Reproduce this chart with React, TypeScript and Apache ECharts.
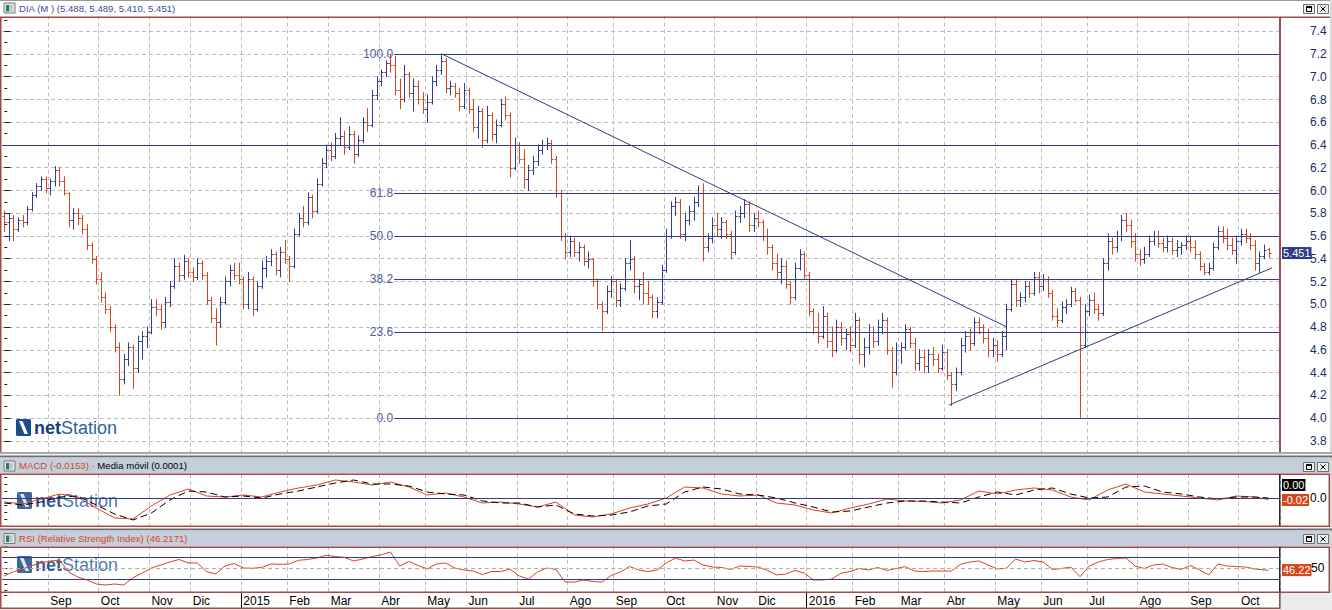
import React, { useEffect, useRef } from 'react';
import * as echarts from 'echarts';

// ---------- axis categories (each bar = two trading days) ----------
const monthLabels = ['Ago', 'Sep', 'Oct', 'Nov', 'Dic', '2015', 'Feb', 'Mar', 'Abr', 'May', 'Jun', 'Jul', 'Ago', 'Sep', 'Oct', 'Nov', 'Dic', '2016', 'Feb', 'Mar', 'Abr', 'May', 'Jun', 'Jul', 'Ago', 'Sep', 'Oct'];
const barsPerMonth = [10, 11, 11, 9, 11, 10, 9, 11, 10, 9, 11, 11, 10, 11, 11, 9, 11, 10, 10, 10, 11, 10, 10, 11, 11, 11, 9];

// ---------- OHLC bars: [open, high, low, close] ----------
const ohlc2014 = [
  [5.78, 5.82, 5.64, 5.72], [5.72, 5.80, 5.56, 5.76], [5.76, 5.78, 5.56, 5.66], [5.66, 5.76, 5.64, 5.74], [5.74, 5.78, 5.68, 5.72],
  [5.72, 5.86, 5.70, 5.84], [5.84, 5.98, 5.82, 5.96], [5.96, 6.06, 5.94, 6.04], [6.04, 6.12, 6.00, 6.10], [6.10, 6.12, 5.98, 6.02],
  [6.02, 6.10, 5.96, 6.08], [6.08, 6.21, 6.04, 6.18], [6.18, 6.20, 6.04, 6.08], [6.08, 6.12, 5.96, 5.98], [5.98, 5.98, 5.68, 5.74],
  [5.74, 5.84, 5.66, 5.80], [5.80, 5.84, 5.70, 5.76], [5.76, 5.78, 5.62, 5.66], [5.66, 5.70, 5.48, 5.52], [5.52, 5.54, 5.36, 5.40],
  [5.40, 5.42, 5.18, 5.22], [5.22, 5.28, 5.02, 5.06], [5.06, 5.10, 4.92, 4.96], [4.96, 4.98, 4.76, 4.80], [4.80, 4.82, 4.58, 4.62],
  [4.62, 4.66, 4.20, 4.34], [4.34, 4.56, 4.30, 4.52], [4.52, 4.66, 4.46, 4.62], [4.62, 4.64, 4.26, 4.44], [4.44, 4.72, 4.40, 4.68],
  [4.68, 4.76, 4.52, 4.72], [4.72, 4.80, 4.62, 4.76], [4.76, 5.04, 4.74, 4.98], [4.98, 5.04, 4.90, 4.96], [4.96, 5.00, 4.78, 4.84],
  [4.84, 5.06, 4.80, 5.02], [5.02, 5.20, 4.98, 5.16], [5.16, 5.40, 5.14, 5.34], [5.34, 5.36, 5.20, 5.26], [5.26, 5.43, 5.22, 5.38],
  [5.38, 5.40, 5.24, 5.28], [5.28, 5.32, 5.20, 5.24], [5.24, 5.40, 5.22, 5.36], [5.36, 5.38, 5.22, 5.26], [5.26, 5.28, 5.00, 5.04],
  [5.04, 5.06, 4.84, 4.88], [4.88, 4.96, 4.64, 4.84], [4.84, 5.06, 4.80, 5.02], [5.02, 5.24, 5.00, 5.20], [5.20, 5.34, 5.16, 5.30],
  [5.30, 5.36, 5.22, 5.26], [5.26, 5.36, 5.18, 5.22],
];
const ohlc2015 = [
  [5.22, 5.24, 4.96, 5.00], [5.00, 5.28, 4.96, 5.22], [5.22, 5.24, 4.90, 4.96], [4.96, 5.20, 4.94, 5.16], [5.16, 5.38, 5.14, 5.32],
  [5.32, 5.42, 5.24, 5.38], [5.38, 5.48, 5.34, 5.44], [5.44, 5.46, 5.26, 5.30], [5.30, 5.50, 5.24, 5.46], [5.46, 5.56, 5.36, 5.40],
  [5.40, 5.42, 5.20, 5.34], [5.34, 5.66, 5.32, 5.62], [5.62, 5.80, 5.60, 5.76], [5.76, 5.86, 5.68, 5.72], [5.72, 5.98, 5.70, 5.94],
  [5.94, 5.96, 5.76, 5.82], [5.82, 6.10, 5.80, 6.06], [6.06, 6.28, 6.04, 6.24], [6.24, 6.40, 6.20, 6.36], [6.36, 6.42, 6.26, 6.30],
  [6.30, 6.50, 6.28, 6.46], [6.46, 6.64, 6.40, 6.48], [6.48, 6.52, 6.32, 6.38], [6.38, 6.56, 6.36, 6.50], [6.50, 6.52, 6.24, 6.32],
  [6.32, 6.48, 6.30, 6.44], [6.44, 6.64, 6.42, 6.60], [6.60, 6.72, 6.52, 6.58], [6.58, 6.88, 6.56, 6.84], [6.84, 7.00, 6.80, 6.96],
  [6.96, 7.06, 6.92, 7.04], [7.04, 7.14, 7.00, 7.12], [7.12, 7.20, 7.04, 7.10], [7.10, 7.18, 6.84, 6.88], [6.88, 6.98, 6.72, 6.80],
  [6.80, 7.10, 6.78, 7.02], [7.02, 7.04, 6.82, 6.86], [6.86, 6.98, 6.70, 6.92], [6.92, 6.96, 6.76, 6.80], [6.80, 6.86, 6.68, 6.72],
  [6.72, 6.84, 6.60, 6.78], [6.78, 7.00, 6.76, 6.96], [6.96, 7.10, 6.92, 7.06], [7.06, 7.20, 7.02, 7.14], [7.14, 7.16, 6.86, 6.90],
  [6.90, 6.96, 6.84, 6.92], [6.92, 6.94, 6.82, 6.86], [6.86, 6.90, 6.70, 6.74], [6.74, 6.94, 6.72, 6.88], [6.88, 6.90, 6.68, 6.72],
  [6.72, 6.80, 6.52, 6.56], [6.56, 6.74, 6.46, 6.70], [6.70, 6.72, 6.38, 6.44], [6.44, 6.74, 6.42, 6.66], [6.66, 6.68, 6.44, 6.50],
  [6.50, 6.62, 6.42, 6.58], [6.58, 6.80, 6.56, 6.76], [6.76, 6.82, 6.62, 6.66], [6.66, 6.68, 6.12, 6.20], [6.20, 6.46, 6.18, 6.40],
  [6.40, 6.42, 6.24, 6.28], [6.28, 6.36, 6.02, 6.10], [6.10, 6.22, 6.00, 6.18], [6.18, 6.30, 6.14, 6.26], [6.26, 6.40, 6.22, 6.36],
  [6.36, 6.44, 6.32, 6.40], [6.40, 6.46, 6.36, 6.42], [6.42, 6.44, 6.24, 6.28], [6.28, 6.30, 5.94, 5.98], [5.98, 6.00, 5.56, 5.60],
  [5.60, 5.62, 5.40, 5.46], [5.46, 5.60, 5.42, 5.56], [5.56, 5.58, 5.42, 5.46], [5.46, 5.54, 5.38, 5.50], [5.50, 5.52, 5.34, 5.38],
  [5.38, 5.46, 5.32, 5.40], [5.40, 5.40, 5.16, 5.20], [5.20, 5.22, 4.96, 5.00], [5.00, 5.02, 4.77, 4.94], [4.94, 5.16, 4.92, 5.12],
  [5.12, 5.24, 5.06, 5.20], [5.20, 5.22, 4.98, 5.04], [5.04, 5.18, 4.98, 5.14], [5.14, 5.40, 5.12, 5.36], [5.36, 5.56, 5.30, 5.40],
  [5.40, 5.42, 5.10, 5.16], [5.16, 5.22, 5.04, 5.18], [5.18, 5.28, 5.00, 5.10], [5.10, 5.20, 5.00, 5.06], [5.06, 5.08, 4.88, 4.94],
  [4.94, 5.06, 4.88, 5.02], [5.02, 5.34, 5.00, 5.30], [5.30, 5.66, 5.28, 5.60], [5.60, 5.90, 5.58, 5.86], [5.86, 5.94, 5.78, 5.90],
  [5.90, 5.92, 5.58, 5.62], [5.62, 5.80, 5.56, 5.74], [5.74, 5.86, 5.70, 5.82], [5.82, 5.94, 5.74, 5.90], [5.90, 6.04, 5.86, 5.98],
  [5.98, 6.06, 5.38, 5.50], [5.50, 5.62, 5.46, 5.58], [5.58, 5.76, 5.54, 5.70], [5.70, 5.80, 5.60, 5.66], [5.66, 5.76, 5.58, 5.72],
  [5.72, 5.74, 5.58, 5.62], [5.62, 5.64, 5.40, 5.46], [5.46, 5.82, 5.44, 5.78], [5.78, 5.86, 5.72, 5.80], [5.80, 5.92, 5.76, 5.88],
  [5.88, 5.90, 5.64, 5.70], [5.70, 5.80, 5.64, 5.76], [5.76, 5.82, 5.68, 5.72], [5.72, 5.74, 5.56, 5.60], [5.60, 5.66, 5.44, 5.50],
  [5.50, 5.52, 5.30, 5.36], [5.36, 5.44, 5.22, 5.28], [5.28, 5.40, 5.18, 5.34], [5.34, 5.38, 5.14, 5.18], [5.18, 5.20, 5.00, 5.06],
  [5.06, 5.36, 5.04, 5.32], [5.32, 5.48, 5.30, 5.44], [5.44, 5.46, 5.22, 5.26],
];
const ohlc2016 = [
  [5.26, 5.28, 4.90, 4.94], [4.94, 4.96, 4.74, 4.80], [4.80, 4.92, 4.66, 4.72], [4.72, 4.98, 4.70, 4.90], [4.90, 4.92, 4.62, 4.68],
  [4.68, 4.80, 4.54, 4.60], [4.60, 4.86, 4.58, 4.80], [4.80, 4.84, 4.64, 4.70], [4.70, 4.78, 4.60, 4.74], [4.74, 4.80, 4.58, 4.64],
  [4.64, 4.92, 4.62, 4.86], [4.86, 4.88, 4.48, 4.56], [4.56, 4.70, 4.45, 4.62], [4.62, 4.82, 4.56, 4.76], [4.76, 4.80, 4.62, 4.68],
  [4.68, 4.86, 4.64, 4.80], [4.80, 4.92, 4.74, 4.86], [4.86, 4.88, 4.56, 4.60], [4.60, 4.62, 4.27, 4.40], [4.40, 4.66, 4.38, 4.60],
  [4.60, 4.66, 4.48, 4.62], [4.62, 4.82, 4.60, 4.78], [4.78, 4.80, 4.62, 4.66], [4.66, 4.70, 4.42, 4.48], [4.48, 4.60, 4.42, 4.54],
  [4.54, 4.60, 4.40, 4.46], [4.46, 4.60, 4.40, 4.56], [4.56, 4.62, 4.46, 4.52], [4.52, 4.56, 4.40, 4.44], [4.44, 4.64, 4.42, 4.58],
  [4.58, 4.60, 4.34, 4.38], [4.38, 4.40, 4.11, 4.30], [4.30, 4.44, 4.24, 4.40], [4.40, 4.70, 4.38, 4.64], [4.64, 4.76, 4.58, 4.72],
  [4.72, 4.78, 4.60, 4.66], [4.66, 4.88, 4.64, 4.84], [4.84, 4.88, 4.74, 4.80], [4.80, 4.82, 4.66, 4.70], [4.70, 4.78, 4.54, 4.60],
  [4.60, 4.70, 4.54, 4.64], [4.64, 4.68, 4.50, 4.56], [4.56, 4.76, 4.54, 4.72], [4.72, 5.00, 4.60, 4.96], [4.96, 5.22, 4.94, 5.18],
  [5.18, 5.22, 4.98, 5.04], [5.04, 5.10, 4.98, 5.06], [5.06, 5.20, 5.02, 5.16], [5.16, 5.20, 5.06, 5.10], [5.10, 5.28, 5.08, 5.24],
  [5.24, 5.28, 5.10, 5.16], [5.16, 5.26, 5.12, 5.22], [5.22, 5.24, 5.06, 5.10], [5.10, 5.12, 4.86, 4.90], [4.90, 4.96, 4.80, 4.86],
  [4.86, 5.02, 4.84, 4.98], [4.98, 5.04, 4.92, 5.00], [5.00, 5.15, 4.98, 5.12], [5.12, 5.14, 5.02, 5.04], [5.04, 5.06, 4.00, 4.64],
  [4.64, 5.00, 4.62, 4.94], [4.94, 5.08, 4.90, 5.04], [5.04, 5.10, 4.92, 4.96], [4.96, 5.00, 4.86, 4.92], [4.92, 5.40, 4.90, 5.36],
  [5.36, 5.62, 5.30, 5.56], [5.56, 5.58, 5.44, 5.50], [5.50, 5.64, 5.46, 5.60], [5.60, 5.78, 5.56, 5.74], [5.74, 5.80, 5.64, 5.70],
  [5.70, 5.74, 5.50, 5.56], [5.56, 5.62, 5.38, 5.44], [5.44, 5.48, 5.34, 5.40], [5.40, 5.50, 5.36, 5.44], [5.44, 5.60, 5.42, 5.56],
  [5.56, 5.64, 5.52, 5.60], [5.60, 5.64, 5.50, 5.54], [5.54, 5.58, 5.46, 5.50], [5.50, 5.60, 5.46, 5.56], [5.56, 5.58, 5.44, 5.48],
  [5.48, 5.56, 5.42, 5.50], [5.50, 5.54, 5.44, 5.52], [5.52, 5.60, 5.48, 5.56], [5.56, 5.60, 5.46, 5.50], [5.50, 5.56, 5.40, 5.44],
  [5.44, 5.46, 5.30, 5.34], [5.34, 5.36, 5.26, 5.28], [5.28, 5.36, 5.26, 5.32], [5.32, 5.54, 5.30, 5.50], [5.50, 5.68, 5.48, 5.64],
  [5.64, 5.68, 5.54, 5.58], [5.58, 5.66, 5.48, 5.52], [5.52, 5.58, 5.44, 5.48], [5.48, 5.60, 5.36, 5.56], [5.56, 5.66, 5.52, 5.62],
  [5.62, 5.66, 5.54, 5.58], [5.58, 5.62, 5.48, 5.52], [5.52, 5.56, 5.30, 5.36], [5.36, 5.46, 5.28, 5.42], [5.42, 5.52, 5.40, 5.48],
  [5.488, 5.489, 5.41, 5.451],
];

// ---------- indicators ----------
const macdStep = 4; // one reading every 4 bars
const macdLine = [
  -0.04, -0.06, -0.01, 0.04, 0.01, -0.10, -0.20, -0.21, -0.08, 0.03, 0.09, 0.02, 0.01, 0.03, 0.01, 0.06, 0.10, 0.13, 0.18, 0.16,
  0.13, 0.16, 0.11, 0.03, 0.05, 0.01, -0.05, -0.04, -0.06, -0.09, -0.04, -0.17, -0.19, -0.16, -0.10, -0.06, 0.00, 0.11, 0.10, 0.04,
  0.02, 0.03, -0.05, -0.07, -0.12, -0.15, -0.10, -0.06, -0.01, -0.03, -0.035, -0.05, -0.02, 0.07, 0.04, 0.08, 0.10, 0.08, 0.01, -0.02,
  0.08, 0.14, 0.06, 0.04, 0.02, 0.00, -0.02, 0.02, 0.01,
];
const macdSignal = [
  -0.05, -0.07, -0.04, 0.01, 0.02, -0.07, -0.16, -0.22, -0.15, -0.02, 0.07, 0.06, 0.01, 0.02, 0.00, 0.04, 0.07, 0.11, 0.15, 0.18,
  0.14, 0.14, 0.12, 0.06, 0.04, 0.03, -0.03, -0.05, -0.05, -0.09, -0.07, -0.16, -0.18, -0.17, -0.14, -0.08, -0.06, 0.06, 0.11, 0.09,
  0.04, 0.03, 0.00, -0.05, -0.09, -0.14, -0.13, -0.09, -0.05, -0.03, -0.03, -0.04, -0.05, 0.01, 0.06, 0.03, 0.08, 0.10, 0.04, 0.00,
  0.01, 0.11, 0.12, 0.06, 0.04, 0.01, -0.01, 0.01, 0.01,
];
const rsiStep = 2; // one reading every 2 bars
const rsiLine = [
  35.5, 43.3, 48.2, 54.5, 59.1, 62.7, 64.5, 42.7, 33.6, 28.2, 20.9, 19.1, 20.9, 19.0, 32.4, 40.9, 50.0, 55.5, 60.9, 65.5,
  59.1, 59.1, 43.3, 39.1, 53.6, 58.2, 50.0, 49.5, 51.0, 57.3, 56.7, 57.3, 64.0, 65.5, 68.2, 73.3, 70.9, 69.1, 62.7, 66.4,
  70.9, 74.0, 79.1, 53.6, 62.0, 54.5, 48.2, 57.3, 59.1, 50.0, 46.4, 44.5, 38.2, 43.6, 43.6, 48.2, 35.5, 30.0, 42.7, 50.0,
  47.3, 24.5, 24.5, 28.2, 25.5, 24.5, 36.4, 42.7, 52.7, 46.4, 43.6, 46.4, 59.1, 68.2, 62.7, 64.5, 55.5, 51.8, 51.0, 47.3,
  53.6, 52.7, 51.8, 45.5, 37.3, 39.1, 45.5, 40.9, 28.2, 28.2, 30.0, 40.4, 43.6, 49.1, 46.4, 50.9, 45.5, 49.1, 52.4, 44.5,
  43.6, 44.5, 44.5, 44.5, 56.7, 60.9, 62.7, 55.5, 48.2, 49.5, 66.4, 60.9, 63.6, 60.9, 47.3, 49.1, 51.8, 34.2, 53.6, 60.9,
  65.5, 67.3, 68.2, 53.6, 49.1, 55.5, 57.3, 50.9, 47.3, 54.5, 46.4, 37.3, 57.3, 53.6, 52.7, 51.8, 48.2, 46.4,
];
const priceLast = 5.451;
const macdLast = -0.0153;
const signalLast = 0.0001;
const rsiLast = 46.2171;

// ---------- drawn studies ----------
const fibLevels = [100, 61.8, 50, 38.2, 23.6, 0];
const fibHigh = 7.2;
const fibLow = 4.0;
const fibStartBar = 84.8;
const resistanceLevel = 6.4;
const downTrend = [[95.2, 7.2], [218.1, 4.8]];
const upTrend = [[205.5, 4.114], [275.8, 5.32]];
const rsiBands = [70, 30];

// ---------- styling ----------
const FONT = '"Liberation Sans", Arial, Helvetica, sans-serif';
const TITLE_SIZE = 9.6;
const UP = '#333d8c';
const DOWN = '#d4461c';
const NAVY = '#323c86';
const GRIDC = '#bdbdbd';
const FRAME = '#a04c4c';
const BARBG = '#c5cfdb';
const CLEAR = 'rgba(0,0,0,0)';

const categories: string[] = [];
barsPerMonth.forEach((n, k) => {
  for (let j = 0; j < n; j++) categories.push(k + ':' + j);
});
const N = categories.length;
const monthOf = (v: string) => monthLabels[Number(v.split(':')[0])];
const isMonthStart = (v: string) => v.endsWith(':0') && v !== '0:0';
const isYearStart = (v: string) => isMonthStart(v) && /^\d{4}$/.test(monthOf(v));

const bars = [...ohlc2014, ...ohlc2015, ...ohlc2016].map((b, i) => [i, b[0], b[1], b[2], b[3]]);
const lastBar = bars.length - 1;
const macdData = macdLine.map((v, k) => [k * macdStep, v]).concat([[lastBar, macdLast]]);
const signalData = macdSignal.map((v, k) => [k * macdStep, v]).concat([[lastBar, signalLast]]);
const rsiData = rsiLine.map((v, k) => [k * rsiStep, v]).concat([[lastBar, rsiLast]]);

const Z = 100;
const rect = (x: number, y: number, w: number, h: number, fill: string, extra: any = {}) => ({
  type: 'rect', z: Z, silent: true, shape: { x, y, width: w, height: h }, style: { fill, ...extra },
});
const panelIcon = (x: number, y: number) => [
  rect(x, y, 11, 10, '#e4e4e4', { stroke: '#7b7b7b', lineWidth: 1 }),
  rect(x + 2, y + 2, 3, 6.5, '#2d7a68'),
  rect(x + 5, y + 2, 3.5, 6.5, '#a8cfc2'),
];
const panelButtons = (y: number) => [
  rect(1303.5, y + 0.5, 11, 9, '#eeeeee', { stroke: '#707070', lineWidth: 1 }),
  rect(1306.5, y + 2.5, 5, 5, 'none', { stroke: '#000', lineWidth: 1 }),
  rect(1306.5, y + 2.5, 5, 1.5, '#000'),
  rect(1317.5, y + 0.5, 11, 9, '#eeeeee', { stroke: '#707070', lineWidth: 1 }),
  { type: 'line', z: Z, silent: true, shape: { x1: 1320.5, y1: y + 2.5, x2: 1325.5, y2: y + 7.5 }, style: { stroke: '#000', lineWidth: 1 } },
  { type: 'line', z: Z, silent: true, shape: { x1: 1325.5, y1: y + 2.5, x2: 1320.5, y2: y + 7.5 }, style: { stroke: '#000', lineWidth: 1 } },
];
const titleText = (y: number, text: string, rich: any) => ({
  type: 'text', z: Z, silent: true, x: 19, y,
  style: { text, fontSize: TITLE_SIZE, fontFamily: FONT, verticalAlign: 'middle', fill: '#3a4a9e', rich },
});
const logo = (x: number, y: number, opacity: number) => [
  { type: 'rect', z: 1, silent: true, shape: { x, y, width: 15, height: 17, r: 1.5 }, style: { fill: '#1c4c8c', opacity } },
  { type: 'polygon', z: 1, silent: true, shape: { points: [[x + 3, y + 2], [x + 6.5, y + 2], [x + 12, y + 15], [x + 8.5, y + 15]] }, style: { fill: '#ffffff', opacity } },
  {
    type: 'text', z: 1, silent: true, x: x + 18, y: y + 9,
    style: {
      text: '{n|net}{s|Station}', verticalAlign: 'middle', opacity,
      rich: {
        n: { fill: '#173f7c', fontSize: 18, fontWeight: 'bold', fontFamily: FONT },
        s: { fill: '#2f5fa0', fontSize: 18, fontFamily: FONT },
      },
    },
  },
];

function buildOption() {
  const catAxis = (grid: number) => ({
    type: 'category', gridIndex: grid, data: categories, boundaryGap: true,
    axisLine: { show: false }, axisTick: { show: false }, axisLabel: { show: false },
    splitLine: { show: true, interval: (_i: number, v: string) => isMonthStart(v), lineStyle: { color: GRIDC, type: [4, 3], width: 1 } },
  });
  const valAxis = (grid: number) => ({ type: 'value', gridIndex: grid, min: -0.5, max: N - 0.5, show: false });
  const boxLabel = (text: string, bg: string, extra: any = {}) => ({
    show: true, position: 'end', distance: 2, formatter: text, backgroundColor: bg, color: '#ffffff',
    padding: [1, 1, 0, 1], fontSize: 11, fontFamily: FONT, opacity: 1, ...extra,
  });
  const hiddenLine = { color: CLEAR, width: 1, type: 'solid' };

  const fibMarks = fibLevels.map((p) => {
    const v = fibLow + ((fibHigh - fibLow) * p) / 100;
    return [
      { coord: [fibStartBar, v], label: { show: true, position: 'start', distance: 1, formatter: p.toFixed(1), color: '#4f5d9e', fontSize: 12, fontFamily: FONT } },
      { coord: [N - 0.5, v] },
    ];
  });

  return {
    animation: false,
    backgroundColor: '#ffffff',
    grid: [
      { left: 2, top: 8.5, width: 1278, height: 455, containLabel: false, outerBoundsMode: 'none' },
      { left: 2, top: 474, width: 1278, height: 52, containLabel: false, outerBoundsMode: 'none' },
      { left: 2, top: 546, width: 1278, height: 49.5, containLabel: false, outerBoundsMode: 'none' },
      { left: 2, top: 592, width: 1278, height: 16, containLabel: false, outerBoundsMode: 'none' },
    ],
    xAxis: [
      catAxis(0), valAxis(0),
      catAxis(1), valAxis(1),
      catAxis(2), valAxis(2),
      {
        type: 'category', gridIndex: 3, data: categories, boundaryGap: true, position: 'top',
        axisLine: { show: false },
        axisTick: { show: true, inside: true, length: 5, interval: (_i: number, v: string) => isMonthStart(v), lineStyle: { color: '#000', width: 1 } },
        axisLabel: {
          show: true, inside: true, margin: 3, align: 'left', interval: (_i: number, v: string) => isMonthStart(v),
          formatter: (v: string) => monthOf(v), color: '#000', fontSize: 12, fontFamily: FONT,
        },
        splitLine: { show: false },
      },
      {
        type: 'category', gridIndex: 3, data: categories, boundaryGap: true, position: 'bottom',
        axisLine: { show: false },
        axisTick: { show: true, inside: true, length: 16, interval: (_i: number, v: string) => isYearStart(v), lineStyle: { color: '#000', width: 1 } },
        axisLabel: { show: false }, splitLine: { show: false },
      },
    ],
    yAxis: [
      {
        type: 'value', gridIndex: 0, position: 'right', min: 3.6, max: 7.6, interval: 0.2,
        axisLine: { show: false },
        axisTick: { show: true, length: 6, lineStyle: { color: '#222' } },
        minorTick: { show: true, splitNumber: 2, length: 3, lineStyle: { color: '#222' } },
        axisLabel: { show: true, align: 'left', margin: 30, color: '#1f2a66', fontSize: 12, fontFamily: FONT, formatter: (v: number) => v.toFixed(1) },
        splitLine: { show: true, lineStyle: { color: GRIDC, type: [4, 3], width: 1 } },
      },
      {
        type: 'value', gridIndex: 1, position: 'right', min: -0.28, max: 0.24, interval: 0.07,
        axisLine: { show: false },
        axisTick: { show: true, length: 3, lineStyle: { color: '#222' } },
        axisLabel: { show: true, align: 'left', margin: 30, color: '#000', fontSize: 12, fontFamily: FONT, formatter: (v: number) => (Math.abs(v) < 1e-9 ? '0.0' : '') },
        splitLine: { show: false },
      },
      {
        type: 'value', gridIndex: 2, position: 'right', min: 0, max: 90, interval: 10,
        axisLine: { show: false },
        axisTick: { show: true, length: 3, lineStyle: { color: '#222' } },
        axisLabel: { show: true, align: 'left', margin: 31, color: '#000', fontSize: 12, fontFamily: FONT, formatter: (v: number) => (Math.abs(v - 50) < 1e-9 ? '50' : '') },
        splitLine: { show: false },
      },
      { type: 'value', gridIndex: 3, show: false },
    ],
    series: [
      {
        type: 'custom', name: 'DIA', xAxisIndex: 1, yAxisIndex: 0, data: bars,
        encode: { x: 0, y: [1, 2, 3, 4] },
        renderItem: (_p: any, api: any) => {
          const i = api.value(0);
          const o = api.value(1);
          const h = api.value(2);
          const l = api.value(3);
          const c = api.value(4);
          const ph = api.coord([i, h]);
          const pl = api.coord([i, l]);
          const po = api.coord([i, o]);
          const pc = api.coord([i, c]);
          const x = Math.round(ph[0]) + 0.5;
          const yo = Math.round(po[1]) + 0.5;
          const yc = Math.round(pc[1]) + 0.5;
          const st = { stroke: c >= o ? UP : DOWN, lineWidth: 1 };
          return {
            type: 'group',
            children: [
              { type: 'line', shape: { x1: x, y1: ph[1] - 0.5, x2: x, y2: pl[1] + 0.5 }, style: st },
              { type: 'line', shape: { x1: x - 2, y1: yo, x2: x, y2: yo }, style: st },
              { type: 'line', shape: { x1: x, y1: yc, x2: x + 2, y2: yc }, style: st },
            ],
          };
        },
        markLine: {
          silent: true, symbol: ['none', 'none'], animation: false,
          lineStyle: { color: NAVY, type: 'solid', width: 1 },
          label: { show: false },
          data: [
            ...fibMarks,
            { yAxis: resistanceLevel },
            [{ coord: downTrend[0] }, { coord: downTrend[1] }],
            [{ coord: upTrend[0] }, { coord: upTrend[1] }],
            { yAxis: priceLast, lineStyle: hiddenLine, label: boxLabel(priceLast.toFixed(3), '#2f3a82') },
          ],
        },
      },
      {
        type: 'line', name: 'MACD', xAxisIndex: 3, yAxisIndex: 1, data: macdData, symbol: 'none',
        lineStyle: { color: DOWN, width: 1 },
        markLine: {
          silent: true, symbol: ['none', 'none'], animation: false, label: { show: false },
          lineStyle: { color: NAVY, type: 'solid', width: 1 },
          data: [
            { yAxis: 0 },
            { yAxis: macdLast, lineStyle: hiddenLine, label: boxLabel(macdLast.toFixed(2), DOWN) },
          ],
        },
      },
      {
        type: 'line', name: 'Media móvil', xAxisIndex: 3, yAxisIndex: 1, data: signalData, symbol: 'none',
        lineStyle: { color: '#000', width: 1, type: [7, 4] },
        markLine: {
          silent: true, symbol: ['none', 'none'], animation: false, label: { show: false },
          data: [{ yAxis: signalLast, lineStyle: hiddenLine, label: boxLabel(signalLast.toFixed(2), '#000000', { offset: [0, -13] }) }],
        },
      },
      {
        type: 'line', name: 'RSI', xAxisIndex: 5, yAxisIndex: 2, data: rsiData, symbol: 'none',
        lineStyle: { color: DOWN, width: 1 },
        markLine: {
          silent: true, symbol: ['none', 'none'], animation: false, label: { show: false },
          lineStyle: { color: NAVY, type: 'solid', width: 1 },
          data: [
            ...rsiBands.map((b) => ({ yAxis: b })),
            { yAxis: 50, lineStyle: { color: '#b0b0b0', type: [4, 3], width: 1 } },
            { yAxis: rsiLast, lineStyle: hiddenLine, label: boxLabel(rsiLast.toFixed(2), DOWN) },
          ],
        },
      },
    ],
    graphic: {
      elements: [
        // logos (under series)
        ...logo(16, 419, 1),
        ...logo(17, 492, 0.85),
        ...logo(17, 556, 0.85),
        // header
        rect(0, 0, 1332, 16.5, '#ffffff'),
        rect(0, 0, 1332, 1, '#9a9a9a'),
        ...panelIcon(4, 3),
        titleText(8.5, '{b|DIA (M ) (5.488, 5.489, 5.410, 5.451)}', { b: { fill: '#3a4a9e', fontSize: TITLE_SIZE, fontFamily: FONT } }),
        ...panelButtons(4),
        // main frame
        rect(0, 16.5, 1330, 1.5, FRAME),
        rect(0, 17, 1.5, 435, FRAME),
        rect(1279, 17, 2, 435, FRAME),
        rect(1330, 0, 2, 610, '#d6d6d6'),
        // MACD separator + title
        rect(0, 452, 1332, 2, '#a9a9a9'),
        rect(0, 454, 1332, 1.5, '#f2f2f2'),
        rect(0, 455.5, 1332, 2, '#6d6d6d'),
        rect(0, 457.5, 1330, 16, BARBG),
        rect(0, 473.5, 1330, 1.5, FRAME),
        ...panelIcon(4, 461),
        titleText(465.5, '{o|MACD (-0.0153)}{g| - }{k|Media móvil (0.0001)}', {
          o: { fill: DOWN, fontSize: TITLE_SIZE, fontFamily: FONT },
          g: { fill: '#8a8a8a', fontSize: TITLE_SIZE, fontFamily: FONT },
          k: { fill: '#000000', fontSize: TITLE_SIZE, fontFamily: FONT },
        }),
        ...panelButtons(462),
        // MACD frame
        rect(0, 474, 1.5, 52, FRAME),
        rect(1279, 474, 1.5, 52, '#2a2a2a'),
        rect(1328.5, 474, 1.5, 52, FRAME),
        rect(0, 525.5, 1330, 1.5, FRAME),
        // RSI separator + title
        rect(0, 527, 1332, 1.5, '#f2f2f2'),
        rect(0, 528.5, 1332, 2, '#6d6d6d'),
        rect(0, 530.5, 1330, 16, BARBG),
        rect(0, 546.5, 1330, 1.5, FRAME),
        ...panelIcon(4, 533.5),
        titleText(538.5, '{o|RSI (Relative Strength Index) (46.2171)}', { o: { fill: DOWN, fontSize: TITLE_SIZE, fontFamily: FONT } }),
        ...panelButtons(534),
        // RSI frame
        rect(0, 547, 1.5, 45, FRAME),
        rect(1279, 547, 1.5, 45, '#2a2a2a'),
        rect(1328.5, 547, 1.5, 45, FRAME),
        rect(0, 591.5, 1330, 1.5, FRAME),
        // date strip
        rect(0, 593, 1.5, 16, FRAME),
        rect(1279, 592, 1.5, 17, FRAME),
        rect(0, 607.5, 1280.5, 1.5, FRAME),
        rect(1280.5, 593, 51.5, 17, '#ececec'),
        rect(0, 609, 1332, 1, '#ececec'),
      ],
    },
  };
}

export default function App() {
  const ref = useRef<HTMLDivElement>(null);
  useEffect(() => {
    if (!ref.current) return;
    const chart = echarts.init(ref.current, undefined, { renderer: 'svg' });
    chart.setOption(buildOption() as any);
    return () => chart.dispose();
  }, []);
  return <div ref={ref} style={{ position: 'fixed', left: 0, top: 0, width: 1332, height: 610, background: '#ffffff' }} />;
}
